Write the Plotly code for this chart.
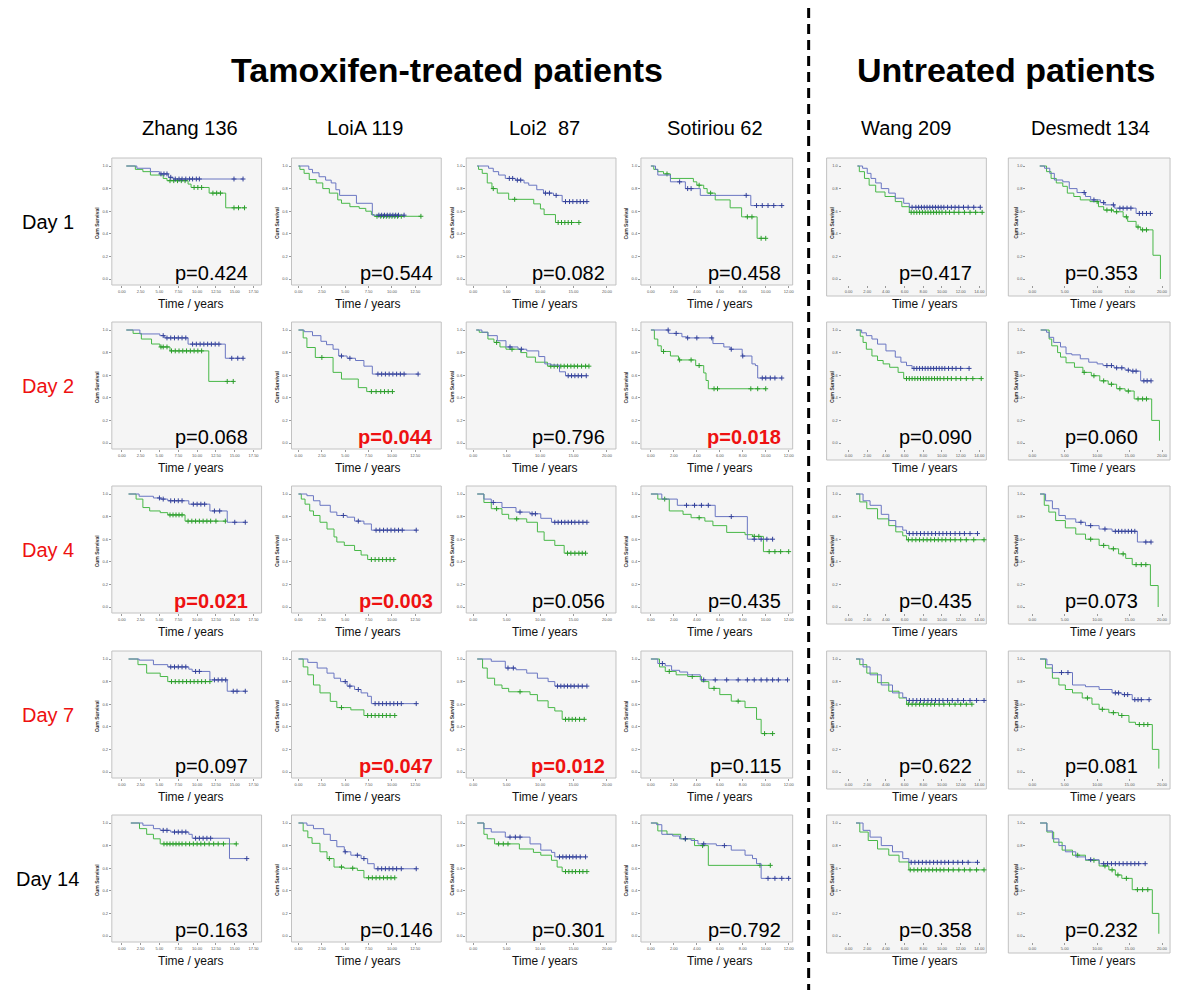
import plotly.graph_objects as go

# ============================ DATA ============================
DATASETS = ["Zhang 136", "LoiA 119", "Loi2  87", "Sotiriou 62", "Wang 209", "Desmedt 134"]
DAYS = ["Day 1", "Day 2", "Day 4", "Day 7", "Day 14"]
GROUP_TITLES = ["Tamoxifen-treated patients", "Untreated patients"]
X_MAX = [17.5, 12.5, 20, 12, 14, 20]
X_STEP = [2.5, 2.5, 5, 2, 2, 5]
Y_TICKS = [0.0, 0.2, 0.4, 0.6, 0.8, 1.0]

P_VALUES = [
    [0.424, 0.544, 0.082, 0.458, 0.417, 0.353],
    [0.068, 0.044, 0.796, 0.018, 0.090, 0.060],
    [0.021, 0.003, 0.056, 0.435, 0.435, 0.073],
    [0.097, 0.047, 0.012, 0.115, 0.622, 0.081],
    [0.163, 0.146, 0.301, 0.792, 0.358, 0.232],
]

# Kaplan-Meier steps (time, survival) and censor times; B = blue, G = green
# ---- Day 1 ----
ZHANG_D1_B = [(0.6, 1.0), (2.0, 0.98), (3.8, 0.95), (5.0, 0.93), (6.2, 0.90), (6.8, 0.885)]
ZHANG_D1_BC = [5.2, 5.6, 6.0, 6.5, 7.1, 7.6, 8.0, 8.5, 9.0, 9.4, 9.9, 10.3, 14.9, 16.1]
ZHANG_D1_G = [(0.6, 1.0), (1.8, 0.97), (2.8, 0.95), (3.8, 0.92), (5.5, 0.89), (6.0, 0.87), (8.8, 0.84),
              (9.2, 0.81), (11.6, 0.76), (13.8, 0.63)]
ZHANG_D1_GC = [6.4, 6.9, 7.4, 7.9, 8.4, 9.6, 10.1, 10.6, 12.1, 12.6, 13.1, 14.9, 15.5, 16.3]

LOIA_D1_B = [(0, 1.0), (1.1, 0.97), (1.5, 0.94), (2.2, 0.905), (2.9, 0.875), (3.5, 0.85), (4.0, 0.79),
             (4.4, 0.74), (6.2, 0.67), (7.9, 0.565)]
LOIA_D1_BC = [8.6, 8.9, 9.2, 9.5, 9.8, 10.1, 10.4, 10.7, 11.3]
LOIA_D1_G = [(0, 1.0), (0.15, 0.97), (0.6, 0.935), (1.15, 0.88), (1.9, 0.85), (2.6, 0.80), (3.3, 0.76),
             (4.2, 0.70), (4.6, 0.67), (5.5, 0.64), (6.5, 0.625), (7.2, 0.60), (7.8, 0.57), (8.1, 0.555)]
LOIA_D1_GC = [8.4, 8.8, 9.1, 9.4, 9.7, 10.0, 10.3, 10.6, 11.0, 13.1]

LOI2_D1_B = [(0.6, 1.0), (2.3, 0.98), (3.0, 0.95), (3.8, 0.92), (4.8, 0.89), (6.3, 0.875), (7.6, 0.85),
             (8.3, 0.83), (9.5, 0.79), (10.5, 0.76), (12.0, 0.74), (13.3, 0.685)]
LOI2_D1_BC = [5.4, 5.9, 6.6, 7.1, 10.8, 11.4, 12.4, 13.8, 14.4, 14.9, 15.5, 16.0, 16.5, 17.0]
LOI2_D1_G = [(0.6, 1.0), (0.8, 0.97), (1.35, 0.935), (2.1, 0.85), (2.8, 0.80), (3.6, 0.76), (5.3, 0.705),
             (9.05, 0.665), (10.05, 0.62), (10.6, 0.57), (12.3, 0.50)]
LOI2_D1_GC = [3.0, 6.2, 12.7, 13.2, 13.7, 14.2, 14.7, 15.8]

SOT_D1_B = [(0, 1.0), (0.4, 0.97), (0.6, 0.92), (1.7, 0.86), (3.0, 0.80), (4.3, 0.74), (8.7, 0.65)]
SOT_D1_BC = [2.5, 3.2, 3.5, 8.3, 9.2, 9.7, 10.2, 10.7, 11.4]
SOT_D1_G = [(0, 1.0), (0.25, 0.97), (0.6, 0.95), (1.1, 0.93), (1.7, 0.89), (3.7, 0.86), (4.0, 0.83),
            (4.6, 0.80), (4.9, 0.76), (5.6, 0.70), (6.9, 0.63), (7.9, 0.55), (9.25, 0.36)]
SOT_D1_GC = [1.4, 4.2, 5.2, 8.4, 8.8, 9.6, 10.0]

WANG_D1_B = [(0.95, 1.0), (1.5, 0.98), (2.0, 0.935), (2.4, 0.89), (2.9, 0.85), (3.5, 0.80), (4.3, 0.76),
             (5.0, 0.715), (5.9, 0.67), (6.5, 0.635)]
WANG_D1_BC = [6.8, 7.2, 7.5, 7.8, 8.1, 8.4, 8.7, 9.0, 9.3, 9.6, 9.9, 10.2, 10.6, 11.0, 11.4, 11.8, 12.3,
              12.8, 13.4, 14.1]
WANG_D1_G = [(0.95, 1.0), (1.15, 0.95), (1.7, 0.89), (2.2, 0.83), (2.9, 0.77), (3.9, 0.73), (5.0, 0.685),
             (5.7, 0.64), (6.5, 0.59)]
WANG_D1_GC = [6.7, 7.0, 7.3, 7.6, 7.9, 8.2, 8.5, 8.8, 9.1, 9.4, 9.7, 10.0, 10.4, 10.8, 11.3, 11.8, 12.4,
              13.0, 13.6, 14.3]

DES_D1_B = [(1.15, 1.0), (1.9, 0.98), (2.7, 0.935), (3.4, 0.876), (4.7, 0.86), (5.7, 0.80), (6.9, 0.765),
            (8.2, 0.73), (9.0, 0.70), (10.5, 0.676), (11.2, 0.656), (12.7, 0.627), (16.0, 0.58)]
DES_D1_BC = [8.0, 9.5, 11.0, 12.5, 13.5, 14.0, 14.6, 15.2, 16.5, 17.0, 17.6, 18.2]
DES_D1_G = [(1.15, 1.0), (2.2, 0.95), (2.9, 0.89), (3.7, 0.85), (4.7, 0.82), (5.4, 0.76), (6.4, 0.73),
            (7.4, 0.70), (8.9, 0.685), (10.2, 0.64), (11.0, 0.61), (12.5, 0.595), (14.0, 0.55), (14.7, 0.51),
            (16.0, 0.46), (16.7, 0.435), (18.6, 0.21), (19.75, 0.0)]
DES_D1_GC = [10.0, 11.5, 12.2, 13.0, 14.5, 16.3, 17.0, 17.6]

# ---- Day 2 ----
ZHANG_D2_B = [(0.6, 1.0), (2.4, 0.965), (5.05, 0.95), (5.7, 0.93), (8.8, 0.875), (13.75, 0.75)]
ZHANG_D2_BC = [5.5, 6.0, 6.5, 7.0, 7.5, 8.0, 8.5, 9.4, 9.9, 10.4, 10.9, 11.4, 11.9, 12.4, 12.9, 14.6, 15.4, 16.1]
ZHANG_D2_G = [(0.6, 1.0), (1.5, 0.97), (2.6, 0.92), (3.95, 0.876), (5.05, 0.85), (6.4, 0.815), (11.55, 0.545)]
ZHANG_D2_GC = [5.2, 5.5, 6.0, 6.6, 7.1, 7.6, 8.1, 8.6, 9.1, 9.6, 10.1, 10.6, 14.0, 14.8]

LOIA_D2_B = [(0, 1.0), (0.6, 0.985), (1.5, 0.95), (2.4, 0.90), (3.0, 0.87), (3.7, 0.83), (4.3, 0.77),
             (5.2, 0.75), (6.1, 0.73), (7.0, 0.68), (7.9, 0.61)]
LOIA_D2_BC = [4.6, 5.5, 8.5, 8.9, 9.3, 9.7, 10.1, 10.5, 10.9, 11.3, 12.8]
LOIA_D2_G = [(0, 1.0), (0.5, 0.93), (0.9, 0.845), (1.8, 0.757), (3.7, 0.625), (4.6, 0.566), (6.4, 0.49),
             (7.3, 0.455)]
LOIA_D2_GC = [2.5, 7.8, 8.3, 8.8, 9.2, 9.6, 10.05]

LOI2_D2_B = [(0.45, 1.0), (1.3, 0.98), (2.2, 0.95), (3.6, 0.905), (4.9, 0.85), (6.7, 0.83), (8.0, 0.815),
             (9.8, 0.765), (10.7, 0.70), (11.6, 0.69), (12.9, 0.63), (13.8, 0.595)]
LOI2_D2_BC = [5.5, 7.2, 14.2, 14.7, 15.2, 15.7, 16.2, 16.9]
LOI2_D2_G = [(0.45, 1.0), (0.9, 0.98), (2.2, 0.92), (3.1, 0.89), (4.0, 0.85), (4.9, 0.83), (7.1, 0.80),
             (8.0, 0.76), (9.3, 0.715), (11.1, 0.68)]
LOI2_D2_GC = [3.5, 5.8, 11.6, 12.1, 12.6, 13.1, 13.6, 14.1, 14.6, 15.1, 15.6, 16.2, 16.8, 17.3]

SOT_D2_B = [(0, 1.0), (1.55, 0.97), (2.7, 0.94), (3.1, 0.93), (5.4, 0.88), (6.35, 0.85), (6.9, 0.83),
            (7.95, 0.77), (8.8, 0.70), (9.1, 0.685), (9.3, 0.575)]
SOT_D2_BC = [1.5, 2.2, 3.2, 4.0, 5.3, 7.0, 8.0, 9.7, 10.0, 10.4, 10.8, 11.4]
SOT_D2_G = [(0, 1.0), (0.3, 0.92), (0.6, 0.86), (0.9, 0.81), (1.7, 0.77), (2.4, 0.735), (3.9, 0.685),
            (4.6, 0.62), (4.8, 0.553), (5.0, 0.48)]
SOT_D2_GC = [1.1, 2.5, 3.5, 4.2, 5.5, 5.8, 8.7, 9.3, 10.0]

WANG_D2_B = [(0.8, 1.0), (1.4, 0.975), (1.9, 0.95), (2.5, 0.92), (3.1, 0.875), (4.0, 0.815), (5.0, 0.76),
             (5.6, 0.715), (6.2, 0.685), (6.8, 0.66)]
WANG_D2_BC = [7.0, 7.3, 7.6, 7.9, 8.2, 8.5, 8.8, 9.1, 9.4, 9.7, 10.0, 10.3, 10.7, 11.1, 11.5, 12.0, 12.9]
WANG_D2_G = [(0.8, 1.0), (1.25, 0.945), (1.55, 0.89), (1.9, 0.83), (2.5, 0.77), (3.1, 0.73), (3.7, 0.70),
             (4.4, 0.67), (5.3, 0.625), (5.9, 0.57)]
WANG_D2_GC = [6.2, 6.5, 6.8, 7.1, 7.4, 7.7, 8.0, 8.3, 8.6, 8.9, 9.2, 9.5, 9.8, 10.2, 10.6, 11.0, 11.5,
              12.0, 12.6, 13.3, 14.2]

DES_D2_B = [(1.3, 1.0), (2.2, 0.98), (2.6, 0.935), (3.3, 0.89), (4.35, 0.85), (5.2, 0.79), (6.1, 0.78),
            (7.4, 0.745), (8.7, 0.715), (10.0, 0.70), (10.9, 0.685), (12.6, 0.665), (14.3, 0.645),
            (15.2, 0.636), (16.7, 0.55)]
DES_D2_BC = [11.5, 12.2, 13.0, 13.8, 14.8, 15.5, 16.0, 17.2, 17.7, 18.3]
DES_D2_G = [(1.3, 1.0), (2.6, 0.92), (3.0, 0.86), (3.9, 0.80), (4.35, 0.76), (5.2, 0.71), (6.5, 0.67),
            (7.8, 0.625), (9.1, 0.595), (10.4, 0.55), (11.7, 0.52), (13.0, 0.48), (14.3, 0.46), (15.7, 0.39),
            (18.4, 0.20), (19.6, 0.02)]
DES_D2_GC = [8.0, 9.5, 11.0, 12.2, 13.5, 14.8, 16.3, 17.0, 17.6]

# ---- Day 4 ----
ZHANG_D4_B = [(0.9, 1.0), (2.3, 0.98), (4.2, 0.965), (5.1, 0.955), (6.1, 0.94), (8.9, 0.91), (11.7, 0.85),
              (14.0, 0.75)]
ZHANG_D4_BC = [5.0, 5.5, 6.5, 7.0, 7.5, 8.0, 9.5, 10.0, 10.5, 11.0, 12.3, 13.0, 15.0, 16.4]
ZHANG_D4_G = [(0.9, 1.0), (1.9, 0.955), (2.8, 0.88), (3.7, 0.85), (5.1, 0.835), (6.1, 0.815), (8.4, 0.76)]
ZHANG_D4_GC = [6.4, 6.8, 7.2, 7.6, 8.0, 8.8, 9.3, 9.8, 10.3, 10.8, 11.3, 11.8, 12.5, 13.75]

LOIA_D4_B = [(0, 1.0), (0.9, 0.985), (1.6, 0.94), (2.3, 0.90), (3.4, 0.84), (4.1, 0.81), (5.2, 0.795),
             (6.0, 0.76), (7.0, 0.735), (7.8, 0.68)]
LOIA_D4_BC = [4.8, 6.4, 8.3, 8.7, 9.1, 9.5, 9.9, 10.3, 10.7, 11.1, 12.6]
LOIA_D4_G = [(0, 1.0), (0.3, 0.955), (0.7, 0.91), (1.2, 0.85), (1.6, 0.81), (2.3, 0.75), (3.05, 0.69),
             (3.8, 0.62), (4.1, 0.575), (4.9, 0.545), (6.0, 0.50), (6.7, 0.46), (7.4, 0.42)]
LOIA_D4_GC = [7.8, 8.2, 8.6, 9.0, 9.4, 9.8, 10.2]

LOI2_D4_B = [(0.6, 1.0), (1.6, 0.955), (2.7, 0.925), (4.3, 0.88), (6.4, 0.84), (8.5, 0.825), (10.1, 0.785),
             (11.7, 0.75)]
LOI2_D4_BC = [3.0, 7.0, 8.8, 9.3, 12.2, 12.7, 13.2, 13.7, 14.2, 14.7, 15.2, 15.8, 16.4, 17.0]
LOI2_D4_G = [(0.6, 1.0), (1.6, 0.925), (2.7, 0.87), (4.3, 0.82), (5.3, 0.78), (8.0, 0.75), (9.6, 0.665),
             (10.6, 0.59), (12.2, 0.545), (13.6, 0.476)]
LOI2_D4_GC = [3.5, 6.5, 14.1, 14.6, 15.2, 15.8, 16.3, 16.8]

SOT_D4_B = [(0, 1.0), (0.95, 0.955), (2.3, 0.90), (5.6, 0.80), (8.4, 0.60)]
SOT_D4_BC = [3.1, 3.8, 4.4, 5.0, 7.0, 9.0, 9.6, 10.1, 10.6]
SOT_D4_G = [(0, 1.0), (0.6, 0.955), (1.6, 0.85), (2.8, 0.82), (3.5, 0.79), (4.7, 0.76), (5.4, 0.72),
            (6.6, 0.66), (8.2, 0.64), (8.85, 0.625), (9.8, 0.49)]
SOT_D4_GC = [1.2, 4.2, 9.0, 9.4, 10.3, 10.8, 11.3, 12.0]

WANG_D4_B = [(0.8, 1.0), (1.55, 0.94), (2.3, 0.90), (3.5, 0.82), (4.3, 0.765), (5.05, 0.71), (5.8, 0.68),
             (6.2, 0.65)]
WANG_D4_BC = [6.5, 6.9, 7.3, 7.7, 8.1, 8.5, 8.9, 9.3, 9.7, 10.1, 10.5, 10.9, 11.4, 11.9, 12.4, 13.0, 13.8]
WANG_D4_G = [(0.8, 1.0), (1.2, 0.93), (1.95, 0.87), (3.1, 0.78), (4.3, 0.72), (5.05, 0.665), (5.8, 0.63),
             (6.2, 0.595)]
WANG_D4_GC = [6.4, 6.8, 7.2, 7.6, 8.0, 8.4, 8.8, 9.2, 9.6, 10.0, 10.4, 10.9, 11.4, 12.0, 12.6, 13.4, 14.5]

DES_D4_B = [(1.2, 1.0), (2.05, 0.94), (3.1, 0.87), (4.1, 0.81), (5.1, 0.78), (6.7, 0.75), (8.2, 0.72),
            (10.3, 0.69), (12.3, 0.67), (16.2, 0.575)]
DES_D4_BC = [7.5, 9.0, 11.2, 12.8, 13.3, 13.8, 14.3, 14.8, 15.3, 15.8, 17.5, 18.3]
DES_D4_G = [(1.2, 1.0), (1.85, 0.90), (2.55, 0.84), (3.6, 0.765), (5.1, 0.70), (6.7, 0.645), (8.2, 0.60),
            (10.3, 0.545), (11.8, 0.515), (13.3, 0.47), (14.4, 0.43), (15.4, 0.375), (18.2, 0.19), (19.4, 0.0)]
DES_D4_GC = [9.0, 11.0, 12.5, 14.0, 16.0, 16.8, 17.5]

# ---- Day 7 ----
ZHANG_D7_B = [(0.9, 1.0), (2.3, 0.99), (4.2, 0.95), (6.1, 0.93), (8.9, 0.91), (9.35, 0.89), (11.7, 0.815),
              (14.0, 0.715)]
ZHANG_D7_BC = [6.5, 7.0, 7.5, 8.0, 8.5, 9.8, 10.3, 12.3, 12.8, 13.3, 13.8, 14.8, 15.3, 16.4]
ZHANG_D7_G = [(0.9, 1.0), (2.15, 0.95), (3.3, 0.875), (5.1, 0.845), (6.1, 0.80)]
ZHANG_D7_GC = [6.6, 7.1, 7.6, 8.1, 8.6, 9.1, 9.6, 10.1, 10.6, 11.1, 11.7]

LOIA_D7_B = [(0, 1.0), (1.0, 0.97), (2.0, 0.92), (3.05, 0.875), (3.8, 0.83), (4.5, 0.80), (5.2, 0.76),
             (6.0, 0.73), (6.7, 0.70), (7.4, 0.67), (7.8, 0.605)]
LOIA_D7_BC = [5.0, 5.5, 6.4, 8.2, 8.6, 9.0, 9.4, 9.8, 10.2, 10.6, 11.0, 12.6]
LOIA_D7_G = [(0, 1.0), (0.5, 0.93), (1.0, 0.86), (1.6, 0.77), (2.3, 0.70), (3.4, 0.625), (4.1, 0.57),
             (5.6, 0.55), (7.0, 0.50)]
LOIA_D7_GC = [4.6, 7.4, 7.8, 8.2, 8.6, 9.0, 9.4, 9.8, 10.3]

LOI2_D7_B = [(0.6, 1.0), (2.7, 0.98), (4.8, 0.92), (6.4, 0.905), (8.0, 0.875), (9.6, 0.83), (11.2, 0.80),
             (12.2, 0.76)]
LOI2_D7_BC = [5.2, 6.0, 12.6, 13.1, 13.6, 14.1, 14.6, 15.1, 15.7, 16.3, 17.0]
LOI2_D7_G = [(0.6, 1.0), (1.4, 0.92), (2.1, 0.83), (3.2, 0.77), (4.3, 0.74), (5.3, 0.71), (8.5, 0.685),
             (9.6, 0.63), (11.2, 0.57), (12.2, 0.54), (13.3, 0.466)]
LOI2_D7_GC = [7.0, 13.8, 14.3, 14.8, 15.3, 15.9, 16.6]

SOT_D7_B = [(0, 1.0), (0.6, 0.96), (1.25, 0.94), (1.8, 0.90), (2.5, 0.885), (3.2, 0.86), (4.3, 0.815)]
SOT_D7_BC = [1.0, 4.6, 5.6, 6.6, 7.6, 8.4, 9.0, 9.6, 10.1, 10.6, 11.1, 11.9]
SOT_D7_G = [(0, 1.0), (0.75, 0.93), (1.25, 0.89), (2.2, 0.86), (3.2, 0.845), (4.4, 0.80), (5.05, 0.74),
            (6.0, 0.685), (7.0, 0.627), (8.2, 0.57), (9.2, 0.466), (9.6, 0.34)]
SOT_D7_GC = [1.6, 3.6, 5.5, 7.6, 9.9, 10.6]

WANG_D7_B = [(0.8, 1.0), (1.55, 0.93), (2.3, 0.86), (3.5, 0.77), (4.7, 0.70), (5.8, 0.66), (6.2, 0.633)]
WANG_D7_BC = [6.5, 6.9, 7.3, 7.7, 8.1, 8.5, 8.9, 9.3, 9.7, 10.1, 10.6, 11.1, 11.7, 12.3, 13.0, 13.7, 14.5]
WANG_D7_G = [(0.8, 1.0), (1.2, 0.95), (1.95, 0.875), (3.1, 0.79), (4.3, 0.715), (5.4, 0.655), (6.2, 0.60)]
WANG_D7_GC = [6.4, 6.8, 7.2, 7.6, 8.0, 8.4, 8.8, 9.2, 9.7, 10.2, 10.8, 11.4, 12.0, 12.6, 13.2]

DES_D7_B = [(1.2, 1.0), (2.25, 0.95), (3.1, 0.88), (6.2, 0.77), (8.2, 0.755), (10.3, 0.73), (12.3, 0.70),
            (13.8, 0.685), (15.4, 0.64)]
DES_D7_BC = [4.5, 5.5, 12.8, 13.3, 14.2, 14.7, 15.8, 16.3, 16.8, 18.0]
DES_D7_G = [(1.2, 1.0), (2.05, 0.92), (3.1, 0.83), (4.1, 0.77), (5.1, 0.73), (6.2, 0.70), (7.7, 0.655),
            (9.2, 0.60), (10.3, 0.555), (11.8, 0.525), (13.3, 0.50), (14.9, 0.44), (15.9, 0.42), (18.5, 0.20),
            (19.5, 0.03)]
DES_D7_GC = [8.5, 10.8, 12.5, 13.8, 16.5, 17.2, 17.8]

# ---- Day 14 ----
ZHANG_D14_B = [(1.2, 1.0), (2.8, 0.98), (4.2, 0.95), (5.1, 0.935), (6.5, 0.92), (8.9, 0.90), (9.35, 0.865),
               (14.3, 0.685)]
ZHANG_D14_BC = [5.5, 6.0, 7.0, 7.5, 8.0, 8.5, 9.8, 10.3, 10.8, 11.3, 11.8, 16.6]
ZHANG_D14_G = [(1.2, 1.0), (2.35, 0.95), (3.3, 0.90), (4.2, 0.86), (5.1, 0.815)]
ZHANG_D14_GC = [5.6, 6.0, 6.4, 6.8, 7.2, 7.6, 8.0, 8.5, 9.0, 9.5, 10.0, 10.5, 11.0, 11.6, 12.2, 12.8, 13.5, 15.2]

LOIA_D14_B = [(0, 1.0), (0.9, 0.98), (1.6, 0.95), (2.7, 0.90), (3.4, 0.845), (4.1, 0.79), (4.9, 0.745),
              (5.6, 0.715), (6.7, 0.685), (7.4, 0.64), (8.1, 0.595)]
LOIA_D14_BC = [5.0, 6.3, 7.0, 8.5, 8.9, 9.3, 9.7, 10.1, 10.5, 11.0, 12.6]
LOIA_D14_G = [(0, 1.0), (0.5, 0.93), (1.0, 0.87), (1.45, 0.82), (2.3, 0.745), (3.05, 0.685), (3.8, 0.61),
              (4.9, 0.60), (6.3, 0.58), (7.0, 0.515)]
LOIA_D14_GC = [3.3, 4.6, 5.8, 7.5, 7.9, 8.3, 8.7, 9.1, 9.5, 9.9, 10.3]

LOI2_D14_B = [(0.6, 1.0), (1.6, 0.95), (2.7, 0.92), (4.8, 0.875), (8.5, 0.815), (10.1, 0.76), (11.7, 0.74),
              (12.2, 0.70)]
LOI2_D14_BC = [5.5, 6.3, 7.0, 12.9, 13.4, 13.9, 14.4, 14.9, 15.4, 16.0, 16.8]
LOI2_D14_G = [(0.6, 1.0), (1.6, 0.90), (2.1, 0.86), (3.2, 0.815), (6.9, 0.77), (9.0, 0.74), (10.1, 0.715),
              (11.7, 0.67), (12.55, 0.61), (13.3, 0.57)]
LOI2_D14_GC = [3.8, 4.5, 5.2, 13.8, 14.3, 14.8, 15.3, 15.9, 16.4, 17.0]

SOT_D14_B = [(0, 1.0), (0.5, 0.985), (0.95, 0.90), (1.9, 0.885), (2.5, 0.86), (3.5, 0.845), (4.1, 0.815),
             (5.7, 0.80), (7.0, 0.76), (8.2, 0.715), (8.85, 0.685), (9.2, 0.64), (9.6, 0.51)]
SOT_D14_BC = [3.0, 4.6, 6.4, 10.2, 10.8, 11.4, 12.0]
SOT_D14_G = [(0, 1.0), (0.6, 0.93), (1.4, 0.90), (2.6, 0.86), (3.8, 0.80), (5.0, 0.625)]
SOT_D14_GC = [3.0, 4.5, 9.5, 10.4]

WANG_D14_B = [(0.8, 1.0), (1.55, 0.935), (2.3, 0.875), (3.5, 0.80), (4.7, 0.745), (5.8, 0.685), (6.45, 0.652)]
WANG_D14_BC = [6.7, 7.1, 7.5, 7.9, 8.3, 8.7, 9.1, 9.5, 9.9, 10.3, 10.7, 11.2, 11.7, 12.2, 12.8, 13.8]
WANG_D14_G = [(0.8, 1.0), (1.2, 0.92), (2.1, 0.845), (3.1, 0.77), (4.3, 0.715), (5.4, 0.655), (6.45, 0.585)]
WANG_D14_GC = [6.6, 7.0, 7.4, 7.8, 8.2, 8.6, 9.0, 9.4, 9.8, 10.2, 10.7, 11.2, 11.8, 12.4, 13.0, 13.7, 14.5]

DES_D14_B = [(1.2, 1.0), (2.25, 0.93), (3.1, 0.86), (4.1, 0.80), (5.1, 0.745), (6.7, 0.70), (8.2, 0.675),
             (10.3, 0.64)]
DES_D14_BC = [9.0, 11.0, 11.6, 12.2, 12.8, 13.4, 14.0, 14.6, 15.2, 15.8, 16.4, 17.4]
DES_D14_G = [(1.2, 1.0), (2.25, 0.92), (3.3, 0.83), (4.6, 0.76), (6.2, 0.715), (8.2, 0.67), (10.3, 0.62),
             (11.8, 0.585), (12.8, 0.54), (13.8, 0.51), (15.4, 0.41), (18.5, 0.20), (19.5, 0.02)]
DES_D14_GC = [7.0, 9.5, 11.2, 12.3, 13.2, 14.5, 16.2, 17.0, 17.8]

CURVES = [
    [(ZHANG_D1_B, ZHANG_D1_BC, ZHANG_D1_G, ZHANG_D1_GC), (LOIA_D1_B, LOIA_D1_BC, LOIA_D1_G, LOIA_D1_GC),
     (LOI2_D1_B, LOI2_D1_BC, LOI2_D1_G, LOI2_D1_GC), (SOT_D1_B, SOT_D1_BC, SOT_D1_G, SOT_D1_GC),
     (WANG_D1_B, WANG_D1_BC, WANG_D1_G, WANG_D1_GC), (DES_D1_B, DES_D1_BC, DES_D1_G, DES_D1_GC)],
    [(ZHANG_D2_B, ZHANG_D2_BC, ZHANG_D2_G, ZHANG_D2_GC), (LOIA_D2_B, LOIA_D2_BC, LOIA_D2_G, LOIA_D2_GC),
     (LOI2_D2_B, LOI2_D2_BC, LOI2_D2_G, LOI2_D2_GC), (SOT_D2_B, SOT_D2_BC, SOT_D2_G, SOT_D2_GC),
     (WANG_D2_B, WANG_D2_BC, WANG_D2_G, WANG_D2_GC), (DES_D2_B, DES_D2_BC, DES_D2_G, DES_D2_GC)],
    [(ZHANG_D4_B, ZHANG_D4_BC, ZHANG_D4_G, ZHANG_D4_GC), (LOIA_D4_B, LOIA_D4_BC, LOIA_D4_G, LOIA_D4_GC),
     (LOI2_D4_B, LOI2_D4_BC, LOI2_D4_G, LOI2_D4_GC), (SOT_D4_B, SOT_D4_BC, SOT_D4_G, SOT_D4_GC),
     (WANG_D4_B, WANG_D4_BC, WANG_D4_G, WANG_D4_GC), (DES_D4_B, DES_D4_BC, DES_D4_G, DES_D4_GC)],
    [(ZHANG_D7_B, ZHANG_D7_BC, ZHANG_D7_G, ZHANG_D7_GC), (LOIA_D7_B, LOIA_D7_BC, LOIA_D7_G, LOIA_D7_GC),
     (LOI2_D7_B, LOI2_D7_BC, LOI2_D7_G, LOI2_D7_GC), (SOT_D7_B, SOT_D7_BC, SOT_D7_G, SOT_D7_GC),
     (WANG_D7_B, WANG_D7_BC, WANG_D7_G, WANG_D7_GC), (DES_D7_B, DES_D7_BC, DES_D7_G, DES_D7_GC)],
    [(ZHANG_D14_B, ZHANG_D14_BC, ZHANG_D14_G, ZHANG_D14_GC), (LOIA_D14_B, LOIA_D14_BC, LOIA_D14_G, LOIA_D14_GC),
     (LOI2_D14_B, LOI2_D14_BC, LOI2_D14_G, LOI2_D14_GC), (SOT_D14_B, SOT_D14_BC, SOT_D14_G, SOT_D14_GC),
     (WANG_D14_B, WANG_D14_BC, WANG_D14_G, WANG_D14_GC), (DES_D14_B, DES_D14_BC, DES_D14_G, DES_D14_GC)],
]

# ============================ STYLE / GEOMETRY (pixels) ============================
W, H = 1200, 999
FONT = "Liberation Sans, Arial, sans-serif"
BLUE_LINE, BLUE_MARK = "#6a76c2", "#34429a"
GREEN_LINE, GREEN_MARK = "#48b848", "#2c9e2c"
RED = "#ee1111"
DAY_COLORS = ["#000000", RED, RED, RED, "#000000"]

P0 = [122, 299, 474, 652, 850, 1034]       # pixel of time 0
P1 = [254, 416, 608, 790, 981, 1164]       # pixel of last tick
BOX_L = [112, 292, 467, 642, 828, 1010]
BOX_R = [262, 442, 617, 794, 988, 1172]
DOM_L = [112, 292, 467, 642, 843, 1028]
Y1 = [166, 330, 494, 659, 823]             # pixel of survival 1.0
YSPAN = 113                                # pixels from 1.0 to 0.0
CUM_X = [97, 277, 452, 627, 833, 1017]
TIME_X = [191, 369, 546, 721, 927, 1105]
P_RIGHT = [250, 436, 608, 784, 976, 1142]
TITLE_X = [190, 366, 545, 716, 908, 1092]


def px(x):
    return x / W


def py(y):
    return 1 - y / H


def step_value(steps, t):
    v = steps[0][1]
    for tt, s in steps:
        if tt <= t:
            v = s
    return v


fig = go.Figure()
axes = {}
shapes = []
ann = []

for r in range(5):
    y0pix = Y1[r] + YSPAN
    top, bot = Y1[r] - 8, y0pix + 6
    for c in range(6):
        k = r * 6 + c + 1
        xa = "x" if k == 1 else f"x{k}"
        ya = "y" if k == 1 else f"y{k}"
        box_bot = bot if c < 4 else y0pix + 17
        shapes.append(dict(type="rect", xref="paper", yref="paper", layer="below",
                           x0=px(BOX_L[c]), x1=px(BOX_R[c]), y0=py(box_bot), y1=py(top),
                           fillcolor="#f5f5f5", line=dict(color="#c2c2c2", width=1)))
        s = (P1[c] - P0[c]) / X_MAX[c]
        xr = [(DOM_L[c] - P0[c]) / s, (BOX_R[c] - P0[c]) / s]
        yr = [(y0pix - bot) / YSPAN, (y0pix - top) / YSPAN]
        nt = int(round(X_MAX[c] / X_STEP[c]))
        xt = [i * X_STEP[c] for i in range(nt + 1)]
        axes["xaxis" + ("" if k == 1 else str(k))] = dict(
            domain=[px(DOM_L[c]), px(BOX_R[c])], range=xr, anchor=ya, tickvals=xt, tickformat=".2f",
            showgrid=False, zeroline=False, showline=False, ticks="outside", ticklen=2, tickcolor="#999",
            tickfont=dict(size=4, color="#555", family=FONT), fixedrange=True)
        axes["yaxis" + ("" if k == 1 else str(k))] = dict(
            domain=[py(bot), py(top)], range=yr, anchor=xa, tickvals=Y_TICKS, tickformat=".1f",
            showgrid=False, zeroline=False, showline=False, ticks="outside", ticklen=2, tickcolor="#999",
            tickfont=dict(size=4, color="#555", family=FONT), fixedrange=True)

        b, bc, g, gc = CURVES[r][c]
        for steps, cens, lc, mc in [(g, gc, GREEN_LINE, GREEN_MARK), (b, bc, BLUE_LINE, BLUE_MARK)]:
            end = max([steps[-1][0]] + cens)
            xs = [t for t, _ in steps] + [end]
            ys = [v for _, v in steps] + [steps[-1][1]]
            fig.add_trace(go.Scatter(x=xs, y=ys, mode="lines", xaxis=xa, yaxis=ya,
                                     line=dict(shape="hv", color=lc, width=1),
                                     hoverinfo="skip", showlegend=False))
            fig.add_trace(go.Scatter(x=cens, y=[step_value(steps, t) for t in cens], mode="markers",
                                     xaxis=xa, yaxis=ya, cliponaxis=False,
                                     marker=dict(symbol="cross-thin-open", size=3.5, color=mc,
                                                 line=dict(color=mc, width=1)),
                                     hoverinfo="skip", showlegend=False))

        p = P_VALUES[r][c]
        sig = p < 0.05
        ptxt = f"<b>p={p:.3f}</b>" if sig else f"p={p:.3f}"
        ann.append(dict(x=px(P_RIGHT[c]), y=py(y0pix - 6), xref="paper", yref="paper",
                        text=ptxt, showarrow=False, xanchor="right", yanchor="middle",
                        font=dict(size=20, color=RED if sig else "#000", family=FONT)))
        ann.append(dict(x=px(TIME_X[c]), y=py(y0pix + 25), xref="paper", yref="paper",
                        text="Time / years", showarrow=False, xanchor="center", yanchor="middle",
                        font=dict(size=12, color="#111", family=FONT)))
        ann.append(dict(x=px(CUM_X[c]), y=py(Y1[r] + YSPAN / 2), xref="paper", yref="paper",
                        text="<b>Cum Survival</b>", showarrow=False, textangle=-90,
                        xanchor="center", yanchor="middle",
                        font=dict(size=5, color="#333", family=FONT)))

    ann.append(dict(x=px(48), y=py(Y1[r] + YSPAN / 2 - 1), xref="paper", yref="paper",
                    text=DAYS[r], showarrow=False, xanchor="center", yanchor="middle",
                    font=dict(size=20, color=DAY_COLORS[r], family=FONT)))

for c in range(6):
    ann.append(dict(x=px(TITLE_X[c]), y=py(128), xref="paper", yref="paper",
                    text=DATASETS[c].replace("  ", "&nbsp; "),
                    showarrow=False, xanchor="center", yanchor="middle",
                    font=dict(size=20, color="#000", family=FONT)))

for txt, gx in zip(GROUP_TITLES, [448, 1008]):
    ann.append(dict(x=px(gx), y=py(70), xref="paper", yref="paper", text=f"<b>{txt}</b>",
                    showarrow=False, xanchor="center", yanchor="middle",
                    font=dict(size=34, color="#000", family=FONT)))

shapes.append(dict(type="line", xref="paper", yref="paper", x0=px(810), x1=px(810), y0=py(8), y1=py(990),
                   line=dict(color="#000", width=3, dash="10px,6px")))

fig.update_layout(width=W, height=H, autosize=False, margin=dict(l=0, r=0, t=0, b=0),
                  paper_bgcolor="white", plot_bgcolor="rgba(0,0,0,0)",
                  shapes=shapes, annotations=ann, showlegend=False, **axes)

fig.write_html("out.html", config={"displayModeBar": False},
               post_script="document.body.style.margin='0';document.body.style.overflow='hidden';")
